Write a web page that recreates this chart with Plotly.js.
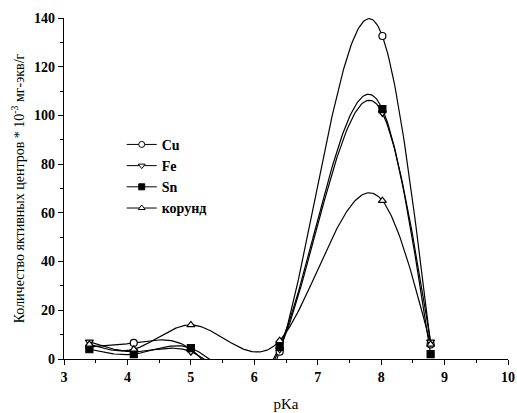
<!DOCTYPE html>
<html>
<head>
<meta charset="utf-8">
<script src="https://cdn.plot.ly/plotly-3.0.1.min.js"></script>
<style>html,body{margin:0;padding:0;background:#fff}#chart{width:517px;height:413px}</style>
</head>
<body>
<div id="chart"></div>
<script>
const pKa = [3.4, 4.1, 5.0, 6.4, 8.02, 8.78];
const cu = [5, 6.6, 4, 3, 132.6, 6];
const fe = [7, 3, 3, 4, 101, 7];
const sn = [4, 2, 4.5, 5, 102.6, 2];
const korund = [6, 4, 14, 7.5, 65, 6];
const seriesNames = ['Cu', 'Fe', 'Sn', 'корунд'];
const xTickVals = [3, 4, 5, 6, 7, 8, 9, 10];
const yTickVals = [0, 20, 40, 60, 80, 100, 120, 140];

// natural cubic spline through the data points (how the original software drew the curves)
function naturalSpline(xs, ys, n) {
  const k = xs.length, h = [], a = [], l = [1], mu = [0], z = [0], c = new Array(k).fill(0), b = [], d = [];
  for (let i = 0; i < k - 1; i++) h.push(xs[i + 1] - xs[i]);
  for (let i = 1; i < k - 1; i++) a[i] = 3 / h[i] * (ys[i + 1] - ys[i]) - 3 / h[i - 1] * (ys[i] - ys[i - 1]);
  for (let i = 1; i < k - 1; i++) {
    l[i] = 2 * (xs[i + 1] - xs[i - 1]) - h[i - 1] * mu[i - 1];
    mu[i] = h[i] / l[i];
    z[i] = (a[i] - h[i - 1] * z[i - 1]) / l[i];
  }
  c[k - 1] = 0;
  for (let j = k - 2; j >= 1; j--) c[j] = z[j] - mu[j] * c[j + 1];
  c[0] = 0;
  for (let j = 0; j < k - 1; j++) {
    b[j] = (ys[j + 1] - ys[j]) / h[j] - h[j] * (c[j + 1] + 2 * c[j]) / 3;
    d[j] = (c[j + 1] - c[j]) / (3 * h[j]);
  }
  const ox = [], oy = [];
  for (let s = 0; s <= n; s++) {
    const x = xs[0] + (xs[k - 1] - xs[0]) * s / n;
    let j = 0;
    while (j < k - 2 && x > xs[j + 1]) j++;
    const t = x - xs[j];
    ox.push(x);
    oy.push(ys[j] + b[j] * t + c[j] * t * t + d[j] * t * t * t);
  }
  return {x: ox, y: oy};
}

const symbols = ['circle', 'triangle-down', 'square', 'triangle-up'];
const fills = ['#fff', '#fff', '#000', '#fff'];
const seriesData = [cu, fe, sn, korund];
const data = [];
seriesData.forEach((ys, i) => {
  const curve = naturalSpline(pKa, ys, 300);
  data.push({x: curve.x, y: curve.y, type: 'scatter', mode: 'lines', showlegend: false,
    line: {color: '#000', width: 1.2}, hoverinfo: 'skip'});
});
seriesData.forEach((ys, i) => {
  data.push({x: pKa, y: ys, type: 'scatter', mode: 'markers', showlegend: false,
    marker: {symbol: symbols[i], size: 7, color: fills[i], line: {color: '#000', width: 1.2}}});
});
seriesData.forEach((ys, i) => {
  data.push({x: [null], y: [null], name: seriesNames[i], type: 'scatter', mode: 'lines+markers',
    line: {color: '#000', width: 1},
    marker: {symbol: symbols[i], size: 6, color: fills[i], line: {color: '#000', width: 1}}});
});

const font = {family: "'Liberation Serif', 'Times New Roman', serif", color: '#000'};
const layout = {
  width: 517, height: 413,
  margin: {l: 64, r: 9, t: 18, b: 54},
  paper_bgcolor: '#fff', plot_bgcolor: '#fff',
  font: Object.assign({size: 14}, font),
  showlegend: true,
  legend: {x: 0.13, y: 0.675, xanchor: 'left', yanchor: 'top', bgcolor: 'rgba(0,0,0,0)',
    font: Object.assign({size: 14, weight: 'bold'}, font), itemwidth: 30, tracegroupgap: 0},
  xaxis: {
    range: [3, 10], tickvals: xTickVals, ticktext: xTickVals.map(String),
    showgrid: false, zeroline: false, showline: true, linecolor: '#000', linewidth: 1.2,
    ticks: 'outside', ticklen: 5, tickcolor: '#000',
    minor: {dtick: 0.5, ticks: 'outside', ticklen: 3, tickcolor: '#000', showgrid: false},
    tickfont: Object.assign({size: 14, weight: 'bold'}, font),
    title: {text: 'pKa', font: Object.assign({size: 15}, font), standoff: 14}
  },
  yaxis: {
    range: [0, 140], tickvals: yTickVals, ticktext: yTickVals.map(String),
    showgrid: false, zeroline: false, showline: true, linecolor: '#000', linewidth: 1.2,
    ticks: 'outside', ticklen: 5, tickcolor: '#000',
    minor: {dtick: 10, ticks: 'outside', ticklen: 3, tickcolor: '#000', showgrid: false},
    tickfont: Object.assign({size: 14, weight: 'bold'}, font),
    title: {text: 'Количество яктивных центров * 10<sup>-3</sup> мг-экв/г', font: Object.assign({size: 14}, font), standoff: 6}
  }
};
Plotly.newPlot('chart', data, layout, {displayModeBar: false, staticPlot: true});
</script>
</body>
</html>
